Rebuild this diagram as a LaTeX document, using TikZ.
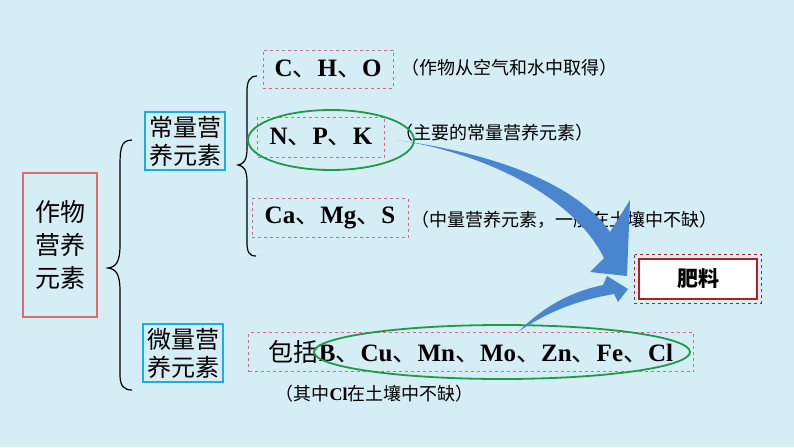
\documentclass[tikz,border=0pt]{standalone}
\usepackage{fontspec}
\setmainfont{Liberation Serif}
\newfontfamily\cjk{Noto Sans CJK SC}
\newcommand{\dn}{{\cjk\mdseries 、}}
\usetikzlibrary{shapes.geometric,calc}
\definecolor{bg}{HTML}{D5EDF4}
\definecolor{redb}{HTML}{E06A6A}
\definecolor{cyanb}{HTML}{1AAEE6}
\definecolor{dashr}{HTML}{C87080}
\definecolor{greenb}{HTML}{1E9A4A}
\definecolor{arrowb}{HTML}{4A86D0}
\definecolor{darkred}{HTML}{B02020}
\begin{document}
\begin{tikzpicture}[x=1pt,y=-1pt,
  cn/.style={font=\cjk\fontsize{24}{28}\selectfont},
  el/.style={font=\bfseries\fontsize{25}{28}\selectfont},
  note/.style={font=\cjk\fontsize{18}{20}\selectfont, anchor=west},
  dbox/.style={draw=dashr, dashed, line width=0.8pt},
  cbox/.style={draw=cyanb, line width=1.8pt, align=center, inner sep=4pt},
  brace/.style={draw=black, line width=1.2pt}]
\fill[bg] (0,0) rectangle (794,447);
\useasboundingbox (0,0) rectangle (794,447);
% left box
\node[draw=redb, line width=1.6pt, minimum width=74pt, minimum height=144pt, align=center, font=\cjk\fontsize{25}{33}\selectfont] (root) at (60,245) {作物\\营养\\元素};
% big brace
\draw[brace] (132,140) .. controls (120,140) and (120,150) .. (120,170) -- (120,245) .. controls (120,262) and (116,267) .. (108,268)
  .. controls (116,269) and (120,274) .. (120,291) -- (120,375) .. controls (120,386) and (124,390) .. (132,390);
\node[cbox, cn] (chang) at (185,141) {常量营\\养元素};
\node[cbox, cn] (wei) at (183,353) {微量营\\养元素};
% small brace
\draw[brace] (257,76) .. controls (249,76) and (247,82) .. (247,92) -- (247,148) .. controls (247,160) and (244,164) .. (238,165)
  .. controls (244,166) and (247,170) .. (247,182) -- (247,242) .. controls (247,252) and (249,256) .. (256,256);
% element boxes
\node[dbox, el, minimum width=130pt, minimum height=38pt] (cho) at (328,69) {C\dn H\dn O};
\node[dbox, el, minimum width=127pt, minimum height=40pt] (npk) at (321,137) {N\dn P\dn K};
\node[dbox, el, minimum width=156pt, minimum height=39pt] (ca) at (330,218) {Ca\dn Mg\dn S};
\node[dbox, el, minimum width=445pt, minimum height=39pt] (wl) at (471,352) {{\cjk\mdseries\fontsize{25}{28}\selectfont 包括}B\dn Cu\dn Mn\dn Mo\dn Zn\dn Fe\dn Cl};
% notes
\node[note] (n1) at (398,68) {（作物从空气和水中取得）};
\node[note] (n2) at (392,133) {（主要的常量营养元素）};
\node[note] (n3) at (408,220) {（中量营养元素，一般在土壤中不缺）};
\node[note] (n4) at (272,394) {（其中{\bfseries\fontspec{Liberation Serif}Cl}在土壤中不缺）};
% ellipses
\draw[greenb, line width=1.8pt] (331,140) ellipse (83pt and 30pt);
\draw[greenb, line width=1.8pt] (502,352) ellipse (188pt and 27pt);
% fertilizer box
\node[draw=darkred, line width=2.5pt, fill=white, minimum width=118pt, minimum height=40pt, font=\cjk\bfseries\fontsize{21}{24}\selectfont] (fei) at (698,279) {肥料};
\draw[darkred, dashed, line width=0.6pt] ($(fei.north west)+(-3,-3)$) rectangle ($(fei.south east)+(3,3)$);
% arrows
\fill[arrowb] (396,140) .. controls (470,150) and (570,175) .. (610,232)
  -- (630,200) -- (627,276) -- (590,272) -- (604,258)
  .. controls (570,190) and (470,150) .. (396,140) -- cycle;
\fill[arrowb] (518,332) .. controls (550,300) and (580,290) .. (603,285)
  -- (607,276) -- (628,289) -- (618,302) -- (614,294)
  .. controls (580,300) and (550,310) .. (518,332) -- cycle;
\end{tikzpicture}
\end{document}
